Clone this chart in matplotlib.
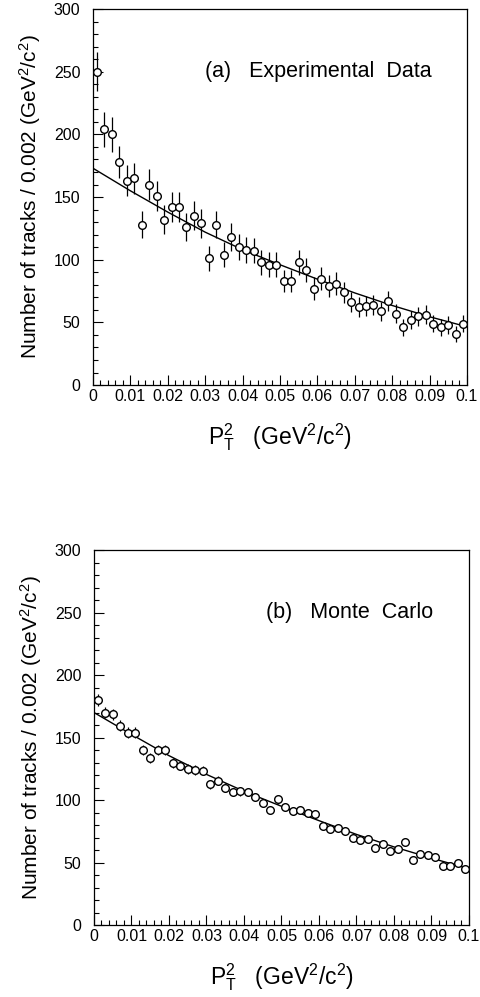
import matplotlib
matplotlib.use("Agg")
import matplotlib.pyplot as plt
import numpy as np

plt.rcParams['font.family'] = ['Liberation Sans', 'DejaVu Sans']
plt.rcParams['mathtext.fontset'] = 'custom'
plt.rcParams['mathtext.rm'] = 'Liberation Sans'
plt.rcParams['mathtext.it'] = 'Liberation Sans:italic'

# bins of 0.002 GeV^2/c^2 from 0 to 0.1
bin_width = 0.002
n_bins = 50
bin_centers = bin_width / 2 + bin_width * np.arange(n_bins)

### (a) experimental data
counts_a = [250, 204, 200, 178, 163, 165, 128, 160, 151, 132,
            142, 142, 126, 135, 129, 101, 128, 104, 118, 110,
            108, 107, 98, 96, 96, 83, 83, 98, 92, 77,
            85, 79, 81, 74, 66, 62, 63, 64, 59, 67,
            57, 46, 52, 55, 56, 49, 46, 48, 41, 49]
errs_a = [15.5, 14, 14, 13, 12.5, 12.5, 11, 12.5, 12, 11.5,
          12, 12, 11, 11.5, 11.5, 10, 11, 10, 11, 10.5,
          10.5, 10, 10, 10, 10, 9, 9, 10, 9.5, 9,
          9, 9, 9, 8.5, 8, 8, 8, 8, 7.5, 8,
          7.5, 7, 7, 7.5, 7.5, 7, 7, 7, 6.5, 7]
fit_x = [0.0, 0.01, 0.02, 0.03, 0.04, 0.05, 0.06, 0.07, 0.08, 0.09, 0.1]
fit_a = [173, 155, 138, 122, 108, 96, 84.5, 73.5, 63.5, 54.5, 46.5]

### (b) monte carlo
counts_b = [180, 170, 168.5, 159.5, 154, 154, 140, 133.5, 140, 140,
            129.5, 127.5, 125, 124, 123.5, 112.5, 115.5, 110, 106.5, 107,
            106.5, 102.5, 97.5, 92, 100.5, 94.5, 91, 92, 89.5, 88.5,
            79, 76.5, 78, 75.5, 70, 68, 68.5, 61.5, 65, 59.5,
            61, 66.5, 52, 56.5, 56, 54.5, 47.5, 47, 50, 44.5]
errs_b = [4.5, 4.5, 4.5, 4.2, 4.2, 4.2, 4, 4, 4, 4,
          3.8, 3.8, 3.8, 3.8, 3.8, 3.6, 3.6, 3.6, 3.5, 3.5,
          3.5, 3.4, 3.4, 3.3, 3.4, 3.3, 3.2, 3.2, 3.2, 3.2,
          3, 3, 3, 3, 2.9, 2.9, 2.9, 2.8, 2.8, 2.8,
          2.8, 2.8, 2.6, 2.6, 2.6, 2.6, 2.5, 2.5, 2.5, 2.5]
fit_b = [170, 152.5, 135.5, 120.5, 107, 95, 83.5, 72.5, 62.5, 53.5, 45]

x_ticks = [0, 0.01, 0.02, 0.03, 0.04, 0.05, 0.06, 0.07, 0.08, 0.09, 0.1]
x_ticklabels = ['0', '0.01', '0.02', '0.03', '0.04', '0.05', '0.06', '0.07', '0.08', '0.09', '0.1']
y_ticks = [0, 50, 100, 150, 200, 250, 300]

ylabel = r'Number of tracks / 0.002 (GeV$^{\rm 2}$/c$^{\rm 2}$)'
xlabel = r'P$_{\rm T}^{\rm 2}$   (GeV$^{\rm 2}$/c$^{\rm 2}$)'


def draw_panel(ax, counts, errs, fit, caption, cap_x):
    ax.errorbar(bin_centers, counts, yerr=errs, fmt='o', mfc='white', mec='black',
                ms=5.5, mew=1.0, ecolor='black', elinewidth=0.9, capsize=0, zorder=3)
    ax.plot(fit_x, fit, color='black', lw=1.0, zorder=2)
    ax.set_xlim(0, 0.1)
    ax.set_ylim(0, 300)
    ax.set_xticks(x_ticks)
    ax.set_xticklabels(x_ticklabels)
    ax.set_xticks(np.arange(0, 0.1, 0.002), minor=True)
    ax.set_yticks(y_ticks)
    ax.set_yticks(np.arange(0, 300, 10), minor=True)
    ax.tick_params(axis='both', which='both', direction='in', top=False, right=False,
                   labelsize=11.5, width=0.8)
    ax.tick_params(axis='both', which='major', length=7)
    ax.tick_params(axis='both', which='minor', length=3.5)
    ax.tick_params(axis='x', pad=3)
    ax.tick_params(axis='y', pad=9)
    for s in ax.spines.values():
        s.set_linewidth(0.9)
    ax.set_ylabel(ylabel, fontsize=15, labelpad=8)
    ax.set_xlabel(xlabel, fontsize=16.5, labelpad=12)
    ax.text(cap_x, 250, caption, fontsize=15.5, ha='left', va='center')


fig = plt.figure(figsize=(4.81, 9.97), dpi=100)
ax1 = fig.add_axes([0.1933, 0.6138, 0.7775, 0.3771])
ax2 = fig.add_axes([0.1954, 0.0722, 0.7796, 0.3761])

draw_panel(ax1, counts_a, errs_a, fit_a, '(a)   Experimental  Data', 0.0299)
draw_panel(ax2, counts_b, errs_b, fit_b, '(b)   Monte  Carlo', 0.0458)

fig.savefig('out.png', dpi=100)
